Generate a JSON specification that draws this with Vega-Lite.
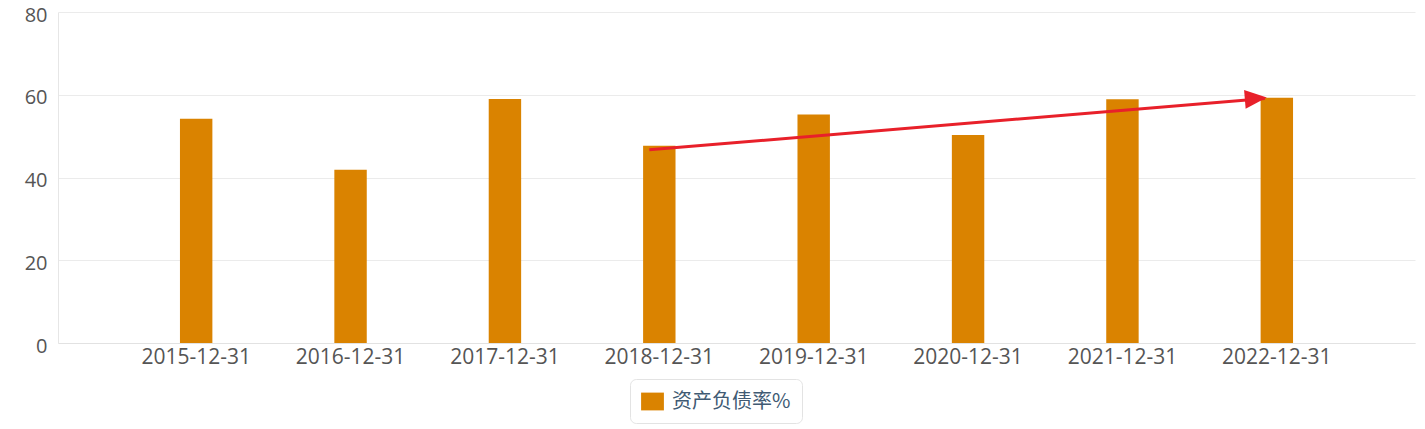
{
  "$schema": "https://vega.github.io/schema/vega-lite/v6.json",
  "width": 1357,
  "height": 331,
  "autosize": "none",
  "padding": {"left": 58, "top": 12, "right": 10, "bottom": 86},
  "background": "white",
  "config": {
    "view": {"stroke": null},
    "font": "Open Sans"
  },
  "datasets": {
    "bars": [
      {"date": "2015-12-31", "value": 54.2, "series": "资产负债率%"},
      {"date": "2016-12-31", "value": 41.9, "series": "资产负债率%"},
      {"date": "2017-12-31", "value": 59.0, "series": "资产负债率%"},
      {"date": "2018-12-31", "value": 47.7, "series": "资产负债率%"},
      {"date": "2019-12-31", "value": 55.2, "series": "资产负债率%"},
      {"date": "2020-12-31", "value": 50.3, "series": "资产负债率%"},
      {"date": "2021-12-31", "value": 58.9, "series": "资产负债率%"},
      {"date": "2022-12-31", "value": 59.3, "series": "资产负债率%"}
    ],
    "arrow": [
      {"from": "2018-12-31", "to": "2022-12-31", "start": 46.7, "end": 59.1}
    ]
  },
  "layer": [
    {
      "data": {"name": "bars"},
      "mark": {"type": "bar"},
      "encoding": {
        "x": {
          "field": "date",
          "type": "nominal",
          "sort": null,
          "title": null,
          "scale": {"paddingInner": 0.79, "paddingOuter": 0.79},
          "axis": {
            "title": null,
            "labelAngle": 0,
            "ticks": false,
            "grid": false,
            "domainColor": "#e2e2e2",
            "labelPadding": 3,
            "labelFontSize": 21,
            "labelColor": "#555555"
          }
        },
        "y": {
          "field": "value",
          "type": "quantitative",
          "title": null,
          "scale": {"domain": [0, 80]},
          "axis": {
            "title": null,
            "values": [0, 20, 40, 60, 80],
            "ticks": false,
            "domain": true,
            "domainColor": "#e6e6e6",
            "gridColor": "#ebebeb",
            "labelPadding": 11,
            "labelOffset": 3,
            "labelFontSize": 20,
            "labelColor": "#555555"
          }
        },
        "color": {
          "field": "series",
          "type": "nominal",
          "scale": {"range": ["#da8300"]},
          "legend": {
            "title": null,
            "orient": "none",
            "legendX": 572,
            "legendY": 367,
            "strokeColor": "#e3e3e3",
            "fillColor": "white",
            "cornerRadius": 6,
            "padding": 11,
            "symbolType": "M-1,-0.78L1,-0.78L1,0.78L-1,0.78Z",
            "symbolSize": 520,
            "symbolStrokeWidth": 0,
            "symbolOpacity": 1,
            "labelOffset": 8,
            "labelFont": "Noto Sans CJK SC",
            "labelFontSize": 20,
            "labelColor": "#405a73"
          }
        }
      }
    },
    {
      "data": {"name": "arrow"},
      "mark": {"type": "rule", "color": "#e8202a", "strokeWidth": 3, "xOffset": -10, "x2Offset": -12},
      "encoding": {
        "x": {"field": "from", "type": "nominal", "title": null},
        "x2": {"field": "to"},
        "y": {"field": "start", "type": "quantitative", "title": null},
        "y2": {"field": "end"}
      }
    },
    {
      "data": {"name": "arrow"},
      "mark": {
        "type": "point",
        "filled": true,
        "opacity": 1,
        "shape": "M-1,-0.85L1,0L-1,0.85Z",
        "size": 484,
        "angle": -4.8,
        "color": "#e8202a",
        "xOffset": -21
      },
      "encoding": {
        "x": {"field": "to", "type": "nominal", "title": null},
        "y": {"field": "end", "type": "quantitative", "title": null}
      }
    }
  ]
}
